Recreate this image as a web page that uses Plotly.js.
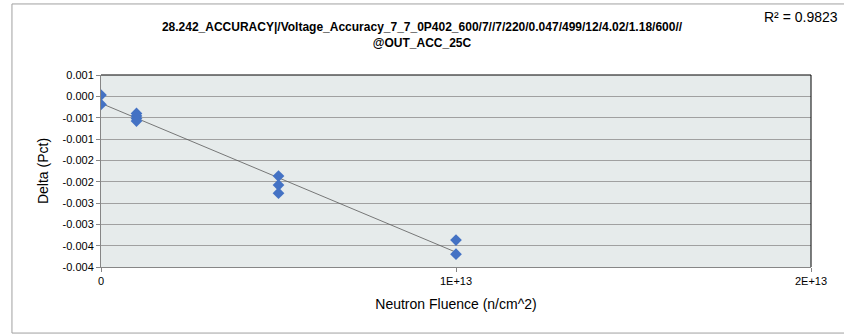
<!DOCTYPE html>
<html>
<head>
<meta charset="utf-8">
<script src="https://cdn.plot.ly/plotly-3.0.1.min.js"></script>
<style>
html,body{margin:0;padding:0;background:#fff;}
#chart{width:844px;height:335px;}
</style>
</head>
<body>
<div id="chart"></div>
<script>
// Data
var fluence = [0, 0, 1e12, 1e12, 1e12, 1e12, 5e12, 5e12, 5e12, 1e13, 1e13];
var delta = [0.00003, -0.00019, -0.00040, -0.00046, -0.00052, -0.00058, -0.00187, -0.00208, -0.00227, -0.00337, -0.00370];

var yTickVals = [0.0005, 0, -0.0005, -0.001, -0.0015, -0.002, -0.0025, -0.003, -0.0035, -0.004];
var yTickText = ["0.001", "0.000", "-0.001", "-0.001", "-0.002", "-0.002", "-0.003", "-0.003", "-0.004", "-0.004"];
var xTickVals = [0, 1e13, 2e13];
var xTickText = ["0", "1E+13", "2E+13"];

var titleText = "28.242_ACCURACY|/Voltage_Accuracy_7_7_0P402_600/7//7/220/0.047/499/12/4.02/1.18/600//<br>@OUT_ACC_25C";
var r2Text = "R² = 0.9823";

// linear trendline from the data
var n = fluence.length, sx = 0, sy = 0, sxx = 0, sxy = 0;
for (var i = 0; i < n; i++) { sx += fluence[i]; sy += delta[i]; sxx += fluence[i]*fluence[i]; sxy += fluence[i]*delta[i]; }
var slope = (n*sxy - sx*sy) / (n*sxx - sx*sx);
var icpt = (sy - slope*sx) / n;
var xMin = Math.min.apply(null, fluence), xMax = Math.max.apply(null, fluence);
var trendX = [xMin, xMax];
var trendY = [icpt + slope*xMin, icpt + slope*xMax];

var font = "Liberation Sans, Arial, sans-serif";

var traces = [
  {x: trendX, y: trendY, type: 'scatter', mode: 'lines',
   line: {color: '#595959', width: 0.8}, hoverinfo: 'skip', showlegend: false},
  {x: fluence, y: delta, type: 'scatter', mode: 'markers',
   marker: {symbol: 'diamond', size: 9, color: '#4472C4'}, showlegend: false}
];

var layout = {
  width: 844, height: 335,
  margin: {l: 101, r: 33, t: 75, b: 68},
  paper_bgcolor: '#ffffff',
  plot_bgcolor: '#E6EBEB',
  font: {family: font, size: 11, color: '#000'},
  title: {text: titleText, font: {family: font, size: 12, color: '#000', weight: 'bold'},
          x: 0.5, xanchor: 'center', y: 0.907, yanchor: 'middle'},
  xaxis: {
    range: [0, 2e13], tickvals: xTickVals, ticktext: xTickText,
    showgrid: false, zeroline: false,
    showline: true, linecolor: '#868686', linewidth: 1,
    ticks: 'outside', ticklen: 4, tickcolor: '#868686',
    tickfont: {family: font, size: 11, color: '#000'},
    title: {text: 'Neutron Fluence (n/cm^2)', font: {family: font, size: 14, color: '#000'}, standoff: 12}
  },
  yaxis: {
    range: [-0.004, 0.0005], tickvals: yTickVals, ticktext: yTickText,
    showgrid: true, gridcolor: '#A0A0A0', gridwidth: 1, zeroline: false,
    showline: true, linecolor: '#868686', linewidth: 1,
    ticks: 'outside', ticklen: 4, tickcolor: '#868686',
    tickfont: {family: font, size: 11, color: '#000'},
    title: {text: 'Delta (Pct)', font: {family: font, size: 14, color: '#000'}, standoff: 10}
  },
  shapes: [
    {type: 'rect', xref: 'paper', yref: 'paper', x0: -0.1254, x1: 1.06, y0: -0.344, y1: 1.37,
     line: {color: '#A0A0A0', width: 1}, fillcolor: 'rgba(0,0,0,0)', layer: 'below'},
    {type: 'line', xref: 'paper', yref: 'paper', x0: 0, x1: 1, y0: 1, y1: 1, line: {color: '#000', width: 1}},
    {type: 'line', xref: 'paper', yref: 'paper', x0: 1, x1: 1, y0: 0, y1: 1, line: {color: '#000', width: 1}}
  ],
  annotations: [
    {text: r2Text, xref: 'paper', yref: 'paper', x: 1.041, y: 1.30, xanchor: 'right', yanchor: 'middle',
     showarrow: false, font: {family: font, size: 14, color: '#000'}}
  ]
};

Plotly.newPlot('chart', traces, layout, {displayModeBar: false, staticPlot: true});
</script>
</body>
</html>
